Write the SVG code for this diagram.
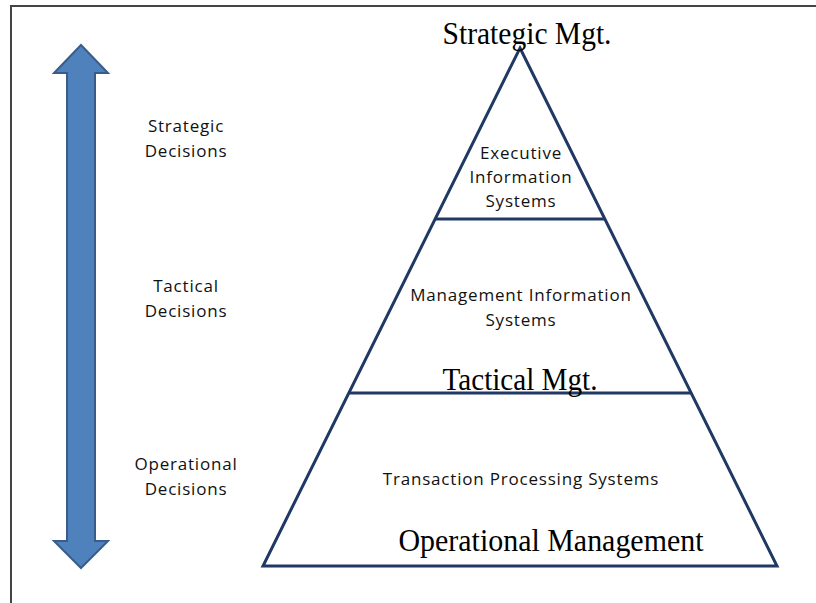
<svg xmlns="http://www.w3.org/2000/svg" width="816" height="603" viewBox="0 0 816 603">
<style>
.serif{font-family:"Liberation Serif","Times New Roman",serif;font-size:32px;fill:#000;text-anchor:middle}
.sans{font-family:"Open Sans","Liberation Sans",sans-serif;font-size:17px;letter-spacing:0.8px;fill:#111;text-anchor:middle}
.pyr{fill:none;stroke:#1f3864;stroke-width:3;stroke-linejoin:miter}
</style>
<rect width="816" height="603" fill="#fff"/>
<path d="M11,603 V6 H816" fill="none" stroke="#444" stroke-width="2"/>
<g id="arrow">
<polygon points="81,45 108,73 95,73 95,541 108,541 81,568 54,541 67,541 67,73 54,73" fill="#4f81bd" stroke="#385d8a" stroke-width="2"/>
</g>
<g id="pyramid">
<polygon class="pyr" points="520,48 777,566 263,566"/>
</g>
<g id="connectors">
<line class="pyr" x1="435" y1="219" x2="605" y2="219"/>
<line class="pyr" x1="349" y1="393" x2="691" y2="393"/>
</g>
<g id="strategic-mgt"><text class="serif" x="527" y="44" textLength="169" lengthAdjust="spacingAndGlyphs">Strategic Mgt.</text></g>
<g id="tactical-mgt"><text class="serif" x="520" y="390" textLength="155" lengthAdjust="spacingAndGlyphs">Tactical Mgt.</text></g>
<g id="operational-mgt"><text class="serif" x="551" y="551" textLength="305" lengthAdjust="spacingAndGlyphs">Operational Management</text></g>
<g id="eis"><text class="sans" x="521" y="159">Executive</text><text class="sans" x="521" y="183">Information</text><text class="sans" x="521" y="207">Systems</text></g>
<g id="mis"><text class="sans" x="521" y="301">Management Information</text><text class="sans" x="521" y="326">Systems</text></g>
<g id="tps"><text class="sans" x="521" y="485">Transaction Processing Systems</text></g>
<g id="strategic-decisions"><text class="sans" x="186" y="132">Strategic</text><text class="sans" x="186" y="157">Decisions</text></g>
<g id="tactical-decisions"><text class="sans" x="186" y="292">Tactical</text><text class="sans" x="186" y="317">Decisions</text></g>
<g id="operational-decisions"><text class="sans" x="186" y="470">Operational</text><text class="sans" x="186" y="495">Decisions</text></g>
</svg>
